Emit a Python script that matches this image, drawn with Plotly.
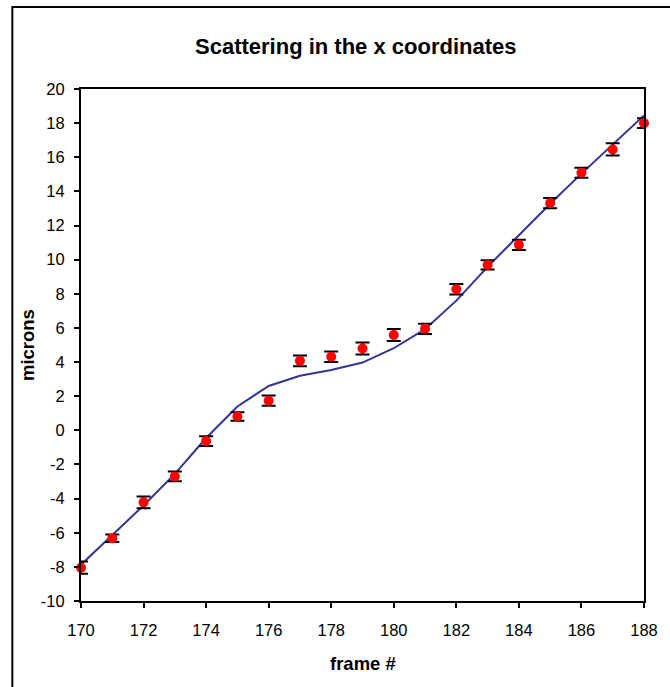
import plotly.graph_objects as go

frames = [170, 171, 172, 173, 174, 175, 176, 177, 178, 179, 180, 181, 182, 183, 184, 185, 186, 187, 188]
measured = [-8.05, -6.33, -4.22, -2.70, -0.63, 0.81, 1.74, 4.07, 4.31, 4.79, 5.59, 5.95,
            8.27, 9.69, 10.87, 13.32, 15.09, 16.46, 18.00]
errors = [0.36, 0.22, 0.34, 0.29, 0.29, 0.25, 0.30, 0.31, 0.31, 0.35, 0.35, 0.30,
          0.31, 0.27, 0.30, 0.30, 0.29, 0.36, 0.29]
fit = [-7.87, -6.15, -4.40, -2.55, -0.45, 1.40, 2.60, 3.20, 3.54, 3.97, 4.81, 5.93,
       7.60, 9.58, 11.43, 13.28, 15.04, 16.72, 18.45]

x_ticks = [170, 172, 174, 176, 178, 180, 182, 184, 186, 188]
x_ticktext = ["170", "172", "174", "176", "178", "180", "182", "184", "186", "188"]
y_ticks = [-10, -8, -6, -4, -2, 0, 2, 4, 6, 8, 10, 12, 14, 16, 18, 20]
y_ticktext = ["-10", "-8", "-6", "-4", "-2", "0", "2", "4", "6", "8", "10", "12", "14", "16", "18", "20"]

title_text = "Scattering in the x coordinates"
x_title = "frame #"
y_title = "microns"

FONT = "Liberation Sans, Arial, sans-serif"
W, H = 670, 687
ML, MR, MT, MB = 81, 15, 89, 86
PW = W - ML - MR
PH = H - MT - MB


def px_x(p):
    return (p - ML) / PW


def px_y(p):
    return (H - MB - p) / PH


fig = go.Figure()

fig.add_trace(go.Scatter(
    x=frames, y=fit, mode="lines",
    line=dict(color="#333399", width=2),
    hoverinfo="skip", showlegend=False,
))

fig.add_trace(go.Scatter(
    x=frames, y=measured, mode="markers",
    marker=dict(color="#ff0000", size=10, line=dict(width=0)),
    error_y=dict(type="data", array=errors, visible=True,
                 color="#000000", thickness=2, width=7),
    showlegend=False, cliponaxis=False,
))

fig.update_layout(
    width=W, height=H,
    margin=dict(l=ML, r=MR, t=MT, b=MB),
    paper_bgcolor="white", plot_bgcolor="white",
    font=dict(family=FONT, size=16, color="black"),
    showlegend=False,
    xaxis=dict(
        range=[170, 188], tickvals=x_ticks, ticktext=x_ticktext,
        showgrid=False, zeroline=False,
        showline=True, linecolor="black", linewidth=2, mirror=True,
        ticks="outside", ticklen=5, tickwidth=2, tickcolor="black",
        ticklabelstandoff=8,
        tickfont=dict(family=FONT, size=16.5, color="black"),
    ),
    yaxis=dict(
        range=[-10, 20], tickvals=y_ticks, ticktext=y_ticktext,
        showgrid=False, zeroline=False,
        showline=True, linecolor="black", linewidth=2, mirror=True,
        ticks="outside", ticklen=5, tickwidth=2, tickcolor="black",
        ticklabelstandoff=6,
        tickfont=dict(family=FONT, size=16.5, color="black"),
    ),
    annotations=[
        dict(text="<b>" + title_text + "</b>", xref="paper", yref="paper",
             x=px_x(361), y=px_y(46), xanchor="center", yanchor="middle",
             showarrow=False, font=dict(family=FONT, size=22, color="black")),
        dict(text="<b>" + x_title + "</b>", xref="paper", yref="paper",
             x=px_x(368), y=px_y(663), xanchor="center", yanchor="middle",
             showarrow=False, font=dict(family=FONT, size=18.5, color="black")),
        dict(text="<b>" + y_title + "</b>", xref="paper", yref="paper",
             x=px_x(26), y=px_y(345), xanchor="center", yanchor="middle",
             textangle=-90,
             showarrow=False, font=dict(family=FONT, size=18.5, color="black")),
    ],
    shapes=[
        dict(type="rect", xref="paper", yref="paper",
             x0=px_x(11), y0=-1, x1=2, y1=px_y(7),
             line=dict(color="black", width=2), fillcolor="rgba(0,0,0,0)",
             layer="below"),
    ],
)

fig.write_html("out.html")
